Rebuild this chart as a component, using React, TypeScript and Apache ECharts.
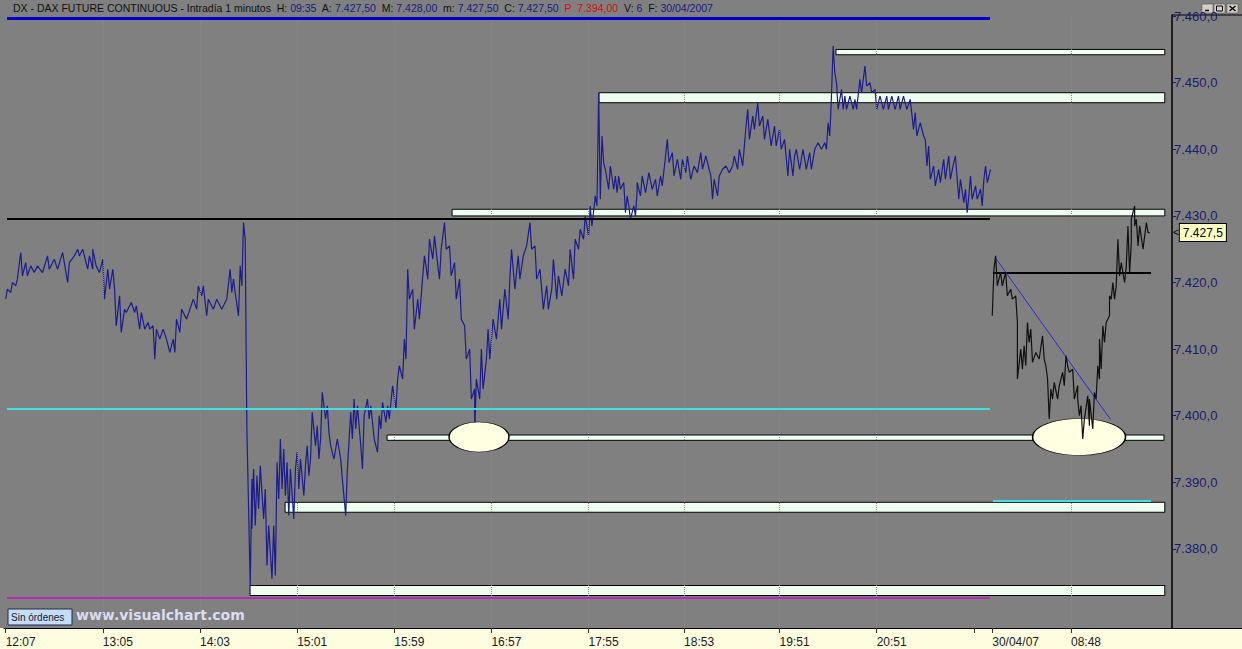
import React, { useEffect, useRef } from 'react';
import * as echarts from 'echarts';

// ---- data: bar index (1 per minute bar) and price ----
const day1Prices: [number, number][] = [
  [1, 7417.5], [2, 7419], [4, 7418.5], [5, 7420], [7, 7419.5], [8, 7420.5], [10, 7424.5], [11, 7421],
  [13, 7423], [14, 7421], [16, 7422.5], [18, 7421.5], [20, 7422.5], [23, 7421.5], [26, 7424], [27, 7422],
  [30, 7423.5], [32, 7422], [35, 7424.5], [36, 7423], [38, 7420], [39, 7423], [42, 7424], [44, 7425],
  [45, 7424], [47, 7425], [49, 7423], [50, 7422], [51, 7424], [53, 7422], [53, 7425], [55, 7422.5],
  [57, 7421.5], [59, 7423.5], [60, 7417.5], [62, 7422], [63, 7419], [65, 7422], [66, 7419], [67, 7413.5],
  [69, 7418], [70, 7412.5], [72, 7416], [73, 7415.5], [76, 7417], [78, 7415.5], [79, 7416.5], [81, 7413],
  [82, 7415.5], [84, 7413], [86, 7414], [87, 7413], [89, 7413.5], [90, 7408.5], [91, 7413], [93, 7411.5],
  [95, 7413], [97, 7411.5], [99, 7409.5], [101, 7411.5], [102, 7409.5], [103, 7414.5], [105, 7412.5], [106, 7416],
  [109, 7414.5], [111, 7416], [113, 7417.5], [115, 7416], [116, 7419.5], [118, 7418], [119, 7419.5], [121, 7415],
  [122, 7417.5], [125, 7416], [127, 7417.5], [130, 7416], [133, 7417.5], [135, 7422], [136, 7418.5], [137, 7420.5],
  [138, 7418.5], [140, 7415], [141, 7422.5], [142, 7419.5], [143, 7429], [144, 7426.5], [145, 7398], [147, 7374.5],
  [148, 7390.5], [148, 7383], [149, 7392], [150, 7383.5], [151, 7391], [152, 7386], [153, 7392.5], [155, 7384.5],
  [156, 7389], [157, 7377.5], [158, 7383.5], [160, 7375.5], [161, 7383.5], [162, 7376], [163, 7393], [164, 7387.5],
  [165, 7396.5], [166, 7389], [167, 7395], [168, 7388], [169, 7393], [170, 7385], [171, 7392], [173, 7384.5],
  [174, 7392], [175, 7394.5], [176, 7389], [177, 7393.5], [179, 7388], [180, 7392.5], [181, 7395.5], [182, 7391],
  [183, 7393.5], [184, 7400.5], [186, 7395.5], [187, 7398.5], [188, 7393.5], [189, 7396.5], [190, 7403.5], [192, 7399.5],
  [193, 7401.5], [194, 7397.5], [195, 7395.5], [197, 7393.5], [199, 7396.5], [201, 7393.5], [202, 7390.5], [204, 7385],
  [205, 7392], [207, 7400.5], [208, 7396.5], [209, 7402.5], [210, 7398], [211, 7401.5], [213, 7395.5], [214, 7392],
  [215, 7400], [217, 7402.5], [218, 7399.5], [219, 7401.5], [221, 7396.5], [223, 7394.5], [224, 7400], [225, 7398],
  [226, 7402], [228, 7399], [229, 7401.5], [230, 7399.5], [232, 7404.5], [234, 7401], [235, 7405.5], [236, 7407.5],
  [238, 7405.5], [239, 7411.5], [240, 7408.5], [241, 7422], [242, 7417.5], [244, 7419], [245, 7413], [247, 7417.5],
  [248, 7414.5], [250, 7421], [251, 7424], [253, 7420.5], [254, 7426.5], [256, 7423.5], [257, 7427], [259, 7422.5],
  [260, 7420.5], [261, 7425], [263, 7429], [264, 7425], [266, 7425.5], [267, 7421], [269, 7423], [270, 7417.5],
  [272, 7420.5], [273, 7414.5], [275, 7413.5], [276, 7408.5], [278, 7410], [279, 7402.5], [281, 7404], [281, 7397],
  [282, 7405.5], [284, 7402.5], [285, 7410], [286, 7404], [288, 7408.5], [289, 7413], [290, 7408.5], [292, 7414.5],
  [294, 7411.5], [296, 7417.5], [297, 7413], [299, 7419], [301, 7414.5], [302, 7420.5], [303, 7425], [305, 7419],
  [307, 7424], [308, 7420.5], [310, 7424], [312, 7425.5], [314, 7429], [315, 7425], [317, 7425.5], [318, 7420.5],
  [320, 7422], [322, 7416], [324, 7419.5], [325, 7416], [327, 7419], [328, 7423.5], [330, 7417.5], [331, 7421],
  [333, 7418], [335, 7422], [337, 7419.5], [338, 7425], [340, 7420.5], [341, 7426.5], [343, 7425], [344, 7428],
  [346, 7426.5], [347, 7430], [349, 7427], [350, 7431.5], [351, 7428.5], [353, 7433], [354, 7431.5], [355, 7448.5],
  [356, 7432.5], [357, 7442], [358, 7438], [359, 7437], [361, 7434], [362, 7437.5], [364, 7434], [365, 7436],
  [366, 7433.5], [367, 7436], [368, 7434], [370, 7435], [371, 7430.5], [372, 7433], [373, 7431.5], [374, 7429.5],
  [376, 7431.5], [377, 7430], [378, 7434], [378, 7435], [380, 7433], [381, 7436], [383, 7433.5], [385, 7436.5],
  [387, 7434], [389, 7435.5], [390, 7433], [392, 7436], [393, 7434.5], [396, 7441.5], [397, 7438], [399, 7439.5],
  [400, 7436], [402, 7438.5], [404, 7435.5], [405, 7438.5], [407, 7436.5], [408, 7439], [410, 7435.5], [412, 7437.5],
  [414, 7436.5], [416, 7439.5], [417, 7437], [419, 7439], [421, 7437], [422, 7436], [423, 7432.5], [424, 7435.5],
  [426, 7433], [427, 7436], [429, 7437], [431, 7437.5], [433, 7436.5], [435, 7437.5], [436, 7439], [438, 7437],
  [439, 7440], [441, 7437.5], [443, 7443.5], [444, 7446], [445, 7441.5], [447, 7445], [448, 7443], [450, 7447],
  [451, 7443.5], [453, 7445], [454, 7441.5], [456, 7444.5], [458, 7440.5], [460, 7443.5], [461, 7440.5], [463, 7443],
  [464, 7440], [466, 7441.5], [468, 7436], [469, 7440], [471, 7436], [472, 7439], [473, 7440], [475, 7437],
  [477, 7440], [479, 7437], [481, 7439.5], [482, 7437], [484, 7440], [486, 7441], [488, 7440], [490, 7441],
  [491, 7440], [492, 7444], [493, 7442], [494, 7448], [495, 7455.5], [496, 7451.5], [497, 7450], [498, 7446],
  [500, 7449], [501, 7446], [502, 7448], [503, 7446], [505, 7448], [507, 7446], [508, 7447.5], [509, 7446],
  [511, 7450.5], [512, 7448.5], [514, 7452.5], [515, 7449.5], [517, 7450], [518, 7448.5], [520, 7449], [521, 7446],
  [523, 7448], [525, 7446], [527, 7448], [528, 7446], [530, 7448], [532, 7446], [534, 7448], [535, 7446],
  [537, 7448], [539, 7446], [541, 7447.5], [543, 7443], [544, 7445.5], [545, 7442], [547, 7444], [549, 7442],
  [550, 7441.5], [551, 7437.5], [552, 7440.5], [553, 7435.5], [555, 7437.5], [556, 7434.5], [558, 7437], [559, 7435],
  [561, 7438.5], [562, 7435.5], [564, 7439], [565, 7435.5], [567, 7438], [568, 7439], [570, 7432.5], [571, 7435.5],
  [573, 7432], [574, 7434], [575, 7430.5], [576, 7433], [577, 7436], [578, 7432.5], [580, 7434.5], [581, 7432.5],
  [583, 7434], [584, 7431.5], [585, 7435.5], [586, 7437.5], [587, 7435], [589, 7437],
];

const day2Prices: [number, number][] = [
  [590, 7415], [591, 7422], [592, 7424], [593, 7419.5], [595, 7421.5], [596, 7419.5], [598, 7421.5], [599, 7418],
  [601, 7419], [602, 7417.5], [604, 7418], [605, 7414], [605, 7405.5], [607, 7410], [608, 7407], [609, 7410.5],
  [610, 7407.5], [611, 7414], [612, 7411], [613, 7413], [614, 7408], [616, 7409.5], [618, 7408.5], [620, 7412],
  [621, 7408.5], [622, 7407.5], [623, 7405.5], [624, 7399.5], [625, 7404], [626, 7402.5], [627, 7405], [629, 7402.5],
  [630, 7404.5], [632, 7406.5], [633, 7404.5], [634, 7409], [635, 7407.5], [636, 7406.5], [638, 7407], [639, 7402.5],
  [641, 7404.5], [641, 7402.5], [642, 7400], [643, 7401.5], [644, 7396.5], [645, 7399.5], [647, 7403], [648, 7398.5],
  [648, 7402.5], [650, 7398], [651, 7403.5], [652, 7402.5], [653, 7407.5], [654, 7405.5], [654, 7411.5], [655, 7407],
  [656, 7413.5], [657, 7411], [658, 7414], [660, 7415], [660, 7418], [661, 7417.5], [662, 7420], [663, 7417.5],
  [664, 7419.5], [665, 7426.5], [666, 7421], [667, 7423], [669, 7420], [670, 7422.5], [671, 7428.5], [672, 7421.5],
  [673, 7426], [673, 7429.5], [675, 7431.5], [675, 7428.5], [676, 7429.5], [677, 7425.5], [678, 7428.5], [680, 7425],
  [681, 7427], [682, 7429], [683, 7427.5], [684, 7427.5],
];

const lastPrice = 7427.5;

// x tick positions (bar index) and their labels
const xTickValues = [1, 59, 117, 175, 233, 291, 349, 406, 463, 521, 579, 590, 637];
const xTickLabels = ['12:07', '13:05', '14:03', '15:01', '15:59', '16:57', '17:55', '18:53', '19:51', '20:51', '', '30/04/07', '08:48'];
const yTickValues = [7380, 7390, 7400, 7410, 7420, 7430, 7440, 7450, 7460];

// support / resistance zones: [fromBar, toBar, topPrice, bottomPrice]
const zones: [number, number, number, number][] = [
  [496.7, 693, 7455.0, 7454.2],
  [355.2, 693, 7448.5, 7447.0],
  [267.5, 693, 7431.0, 7430.0],
  [228.7, 692.5, 7397.1, 7396.3],
  [167.8, 693, 7387.0, 7385.5],
  [146.9, 693, 7374.5, 7373.0],
];

// long horizontal levels (day 1): prices
const levelFrom = 1.8;
const levelTo = 588.6;
const levelPrices = [7459.7, 7429.6, 7401.0, 7372.7];
// short levels on day 2
const shortFrom = 590.4;
const shortTo = 684.8;
const shortPrices = [7421.4, 7387.2];
// trend line day 2: [bar, price] start and end
const trendLine: [number, number][] = [[592.2, 7423.6], [660.7, 7399.4]];
// pivot ellipses centers [bar, price]
const pivots: [number, number][] = [[283.6, 7396.8], [641.8, 7396.8]];

// ---- styles ----
const BG = '#808080';
const levelColors = ['#0000cc', '#000000', '#3ee0e4', '#b42cb4'];
const levelWidths = [3, 2, 2, 2];
const shortColors = ['#000000', '#3ee0e4'];
const pivotSizes: [number, number][] = [[60, 30], [93, 37]];

const fmtPrice = (v: number) => {
  const s = v.toFixed(1);
  const [i, d] = s.split('.');
  return i.slice(0, -3) + '.' + i.slice(-3) + ',' + d;
};

export default function App() {
  const ref = useRef<HTMLDivElement>(null);
  useEffect(() => {
    if (!ref.current) return;
    const chart = echarts.init(ref.current, undefined, { renderer: 'svg' });
    const font = 'Liberation Sans, Arial, sans-serif';
    const headerParts: [string, string][] = [
      ['DX - DAX FUTURE CONTINUOUS - Intradía 1 minutos  H: ', 'k'],
      ['09:35', 'v'], ['  A: ', 'k'], ['7.427,50', 'v'], ['  M: ', 'k'], ['7.428,00', 'v'],
      ['  m: ', 'k'], ['7.427,50', 'v'], ['  C: ', 'k'], ['7.427,50', 'v'], ['  ', 'k'], ['P', 'r'],
      ['  7.394,00', 'r'], ['  V: ', 'k'], ['6', 'v'], ['  F: ', 'k'], ['30/04/2007', 'v'],
    ];
    const option: any = {
      animation: false,
      backgroundColor: BG,
      title: {
        left: 13,
        top: 2,
        padding: 0,
        text: headerParts.map(([t, s]) => `{${s}|${t}}`).join(''),
        textStyle: {
          fontFamily: font,
          fontSize: 10.5,
          fontWeight: 'normal',
          rich: {
            k: { color: '#101010', fontSize: 10.5, fontFamily: font },
            v: { color: '#1a1a80', fontSize: 10.5, fontFamily: font },
            r: { color: '#d01010', fontSize: 10.5, fontFamily: font },
          },
        },
      },
      grid: { left: 4, right: 70, top: 15, bottom: 21 },
      xAxis: {
        type: 'value',
        min: 0,
        max: 697.3,
        axisLine: { show: true, onZero: false, lineStyle: { color: '#000', width: 1 } },
        axisTick: { show: true, customValues: xTickValues, length: 5, lineStyle: { color: '#303030' } },
        axisLabel: {
          customValues: xTickValues,
          align: 'left',
          margin: 8,
          color: '#202020',
          fontSize: 12,
          fontFamily: font,
          formatter: (v: number) => {
            const i = xTickValues.indexOf(v);
            return i >= 0 ? xTickLabels[i] : '';
          },
        },
        splitLine: { show: false },
      },
      yAxis: {
        type: 'value',
        position: 'right',
        min: 7368.12,
        max: 7460.17,
        axisLine: { show: true, onZero: false, lineStyle: { color: '#000', width: 1.5 } },
        axisTick: { show: true, customValues: yTickValues, length: 4, lineStyle: { color: '#1a1a70' } },
        axisLabel: {
          customValues: yTickValues,
          margin: 2,
          color: '#1a1a70',
          fontSize: 13,
          fontFamily: font,
          formatter: (v: number) => fmtPrice(v),
        },
        splitLine: { show: false },
      },
      graphic: [
        { type: 'rect', z: -10, shape: { x: 0, y: 628, width: 1242, height: 21 }, style: { fill: '#fffde0' } },
        { type: 'line', shape: { x1: 1172, y1: 15, x2: 1242, y2: 15 }, style: { stroke: '#000', lineWidth: 1 } },
        { type: 'line', shape: { x1: 1172, y1: 628.5, x2: 1242, y2: 628.5 }, style: { stroke: '#000', lineWidth: 1 } },
        // window buttons
        { type: 'rect', shape: { x: 1202, y: 4, width: 11, height: 9 }, style: { fill: '#d4d0c8', stroke: '#505050', lineWidth: 0.6 } },
        { type: 'line', shape: { x1: 1205, y1: 10.5, x2: 1209, y2: 10.5 }, style: { stroke: '#000', lineWidth: 1.5 } },
        { type: 'rect', shape: { x: 1214, y: 4, width: 11, height: 9 }, style: { fill: '#d4d0c8', stroke: '#505050', lineWidth: 0.6 } },
        { type: 'rect', shape: { x: 1216.5, y: 6, width: 6, height: 5 }, style: { fill: 'none', stroke: '#000', lineWidth: 1 } },
        { type: 'rect', shape: { x: 1227, y: 4, width: 11, height: 9 }, style: { fill: '#d4d0c8', stroke: '#505050', lineWidth: 0.6 } },
        { type: 'line', shape: { x1: 1229.5, y1: 6, x2: 1235.5, y2: 11 }, style: { stroke: '#000', lineWidth: 1.4 } },
        { type: 'line', shape: { x1: 1235.5, y1: 6, x2: 1229.5, y2: 11 }, style: { stroke: '#000', lineWidth: 1.4 } },
        // orders box and watermark
        { type: 'rect', shape: { x: 8, y: 609, width: 64, height: 16 }, style: { fill: '#c6dcf2', stroke: '#1c2a50', lineWidth: 1 } },
        { type: 'text', x: 11, y: 617, style: { text: 'Sin órdenes', fill: '#102040', font: `10px ${font}`, verticalAlign: 'middle' } },
        { type: 'text', x: 76, y: 615, style: { text: 'www.visualchart.com', fill: '#dcdcf0', font: `bold 14px DejaVu Sans, sans-serif`, verticalAlign: 'middle' } },
      ],
      series: [
        {
          name: 'zones',
          type: 'line',
          data: [],
          z: 1,
          silent: true,
          markArea: {
            silent: true,
            itemStyle: { color: '#eefff0', borderColor: '#000', borderWidth: 1 },
            data: zones.map(([x1, x2, top, bot]) => [{ coord: [x1, top] }, { coord: [x2, bot] }]),
          },
        },
        {
          name: 'pivots',
          type: 'line',
          data: [],
          z: 2,
          silent: true,
          markPoint: {
            silent: true,
            symbol: 'circle',
            label: { show: false },
            itemStyle: { color: '#ffffe2', borderColor: '#000', borderWidth: 1 },
            data: pivots.map(([x, y], i) => ({ coord: [x, y], symbolSize: pivotSizes[i] })),
          },
        },
        {
          name: 'levels',
          type: 'line',
          data: [],
          z: 3,
          silent: true,
          markLine: {
            silent: true,
            symbol: 'none',
            label: { show: false },
            data: [
              ...xTickValues.slice(1, 10).concat([637]).map((v) => ({
                xAxis: v,
                lineStyle: { type: 'dotted', color: '#8a8a8a', width: 1 },
              })),
              ...levelPrices.map((p, i) => [
                { coord: [levelFrom, p], lineStyle: { type: 'solid', color: levelColors[i], width: levelWidths[i] } },
                { coord: [levelTo, p] },
              ]),
              ...shortPrices.map((p, i) => [
                { coord: [shortFrom, p], lineStyle: { type: 'solid', color: shortColors[i], width: 2 } },
                { coord: [shortTo, p] },
              ]),
              [
                { coord: trendLine[0], lineStyle: { type: 'solid', color: '#2a2ad0', width: 1 } },
                { coord: trendLine[1] },
              ],
            ],
          },
        },
        {
          name: 'DAX día 1',
          type: 'line',
          data: day1Prices,
          z: 4,
          showSymbol: false,
          symbol: 'none',
          lineStyle: { color: '#1c1c8e', width: 1.2 },
        },
        {
          name: 'DAX día 2',
          type: 'line',
          data: day2Prices,
          z: 5,
          showSymbol: false,
          symbol: 'none',
          lineStyle: { color: '#101010', width: 1.2 },
        },
        {
          name: 'último',
          type: 'line',
          data: [],
          z: 6,
          silent: true,
          markLine: {
            silent: true,
            symbol: 'none',
            lineStyle: { width: 0, color: 'rgba(0,0,0,0)' },
            label: {
              show: true,
              position: 'end',
              distance: 1,
              formatter: `{a|<}{b|${fmtPrice(lastPrice)}}`,
              rich: {
                a: { color: '#000', fontSize: 10, fontFamily: font, padding: [0, 1, 0, 0] },
                b: {
                  color: '#000',
                  fontSize: 12,
                  fontFamily: font,
                  backgroundColor: '#ffffc4',
                  borderColor: '#000',
                  borderWidth: 1,
                  padding: [3, 3, 2, 3],
                },
              },
            },
            data: [{ yAxis: lastPrice }],
          },
        },
      ],
    };
    chart.setOption(option);
    return () => chart.dispose();
  }, []);
  return <div ref={ref} style={{ position: 'fixed', left: 0, top: 0, width: 1242, height: 649 }} />;
}
